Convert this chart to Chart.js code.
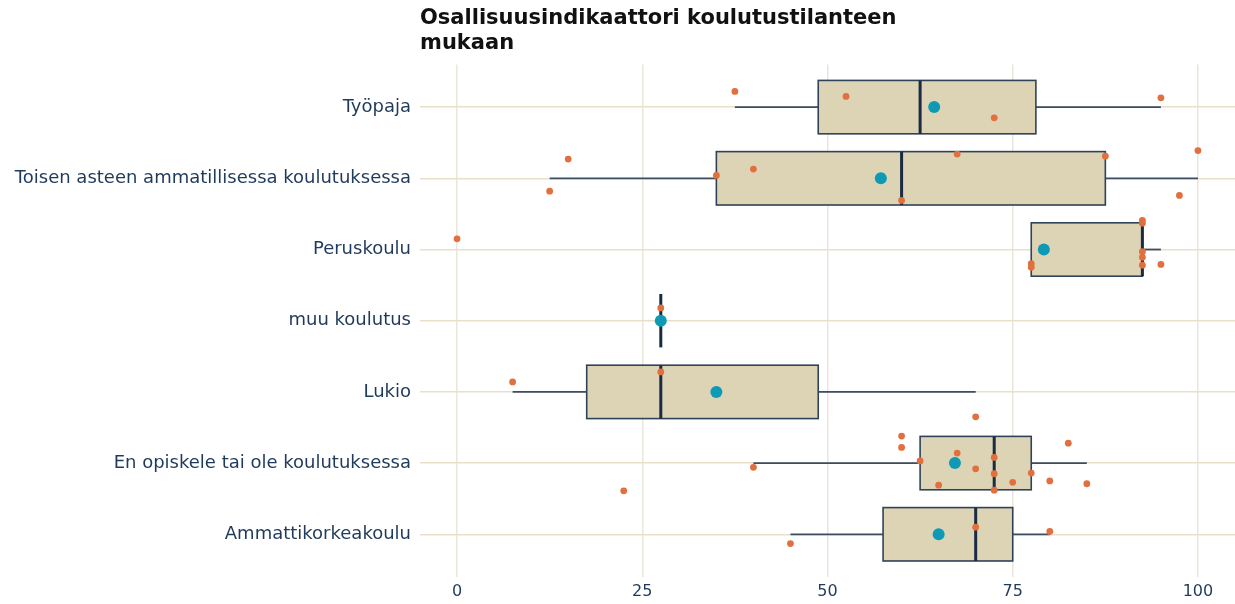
<!DOCTYPE html>
<html>
<head>
<meta charset="utf-8">
<script src="https://cdn.jsdelivr.net/npm/chart.js@4.4.1/dist/chart.umd.min.js"></script>
<style>
  html, body { margin: 0; padding: 0; background: #ffffff; }
  #wrap { width: 1235px; height: 604px; }
</style>
</head>
<body>
<div id="wrap"><canvas id="chart"></canvas></div>
<script>
// Categories, top to bottom
const categories = [
    'Työpaja',
    'Toisen asteen ammatillisessa koulutuksessa',
    'Peruskoulu',
    'muu koulutus',
    'Lukio',
    'En opiskele tai ole koulutuksessa',
    'Ammattikorkeakoulu'
];

// Box statistics
const whiskerLow  = [37.5, 12.5, 77.5, 27.5, 7.5, 40, 45];
const q1          = [48.75, 35, 77.5, 27.5, 17.5, 62.5, 57.5];
const median      = [62.5, 60, 92.5, 27.5, 27.5, 72.5, 70];
const q3          = [78.125, 87.5, 92.5, 27.5, 48.75, 77.5, 75];
const whiskerHigh = [95, 100, 95, 27.5, 70, 85, 80];
const means       = [64.4, 57.2, 79.2, 27.5, 35, 67.2, 65];

// Individual observations and their vertical jitter (in category units)
const pointValues = [
    [37.5, 52.5, 72.5, 95],
    [12.5, 15, 35, 40, 60, 67.5, 87.5, 97.5, 100],
    [0, 77.5, 77.5, 92.5, 92.5, 92.5, 92.5, 92.5, 95],
    [27.5],
    [7.5, 27.5, 70],
    [22.5, 40, 60, 60, 62.5, 65, 67.5, 70, 72.5, 72.5, 72.5, 75, 77.5, 80, 82.5, 85],
    [45, 70, 80]
];
const pointJitter = [
    [-0.22, -0.15, 0.15, -0.13],
    [0.18, -0.27, -0.04, -0.13, 0.31, -0.34, -0.31, 0.24, -0.39],
    [-0.15, 0.2, 0.25, -0.41, -0.37, 0.03, 0.11, 0.22, 0.21],
    [-0.18],
    [-0.14, -0.28, 0.35],
    [0.39, 0.06, -0.38, -0.22, -0.03, 0.31, -0.14, 0.08, -0.08, 0.15, 0.38, 0.27, 0.14, 0.25, -0.28, 0.29],
    [0.13, -0.1, -0.04]
];

const xTicks = [0, 25, 50, 75, 100];
const titleLines = ['Osallisuusindikaattori koulutustilanteen', 'mukaan'];

const FONT = "'DejaVu Sans', 'Liberation Sans', Arial, sans-serif";
const LABEL_COLOR = '#1f3a5a';

const boxPlugin = {
    id: 'boxes',
    beforeDatasetsDraw(chart) {
        const { ctx } = chart;
        const x = chart.scales.x;
        const y = chart.scales.y;
        const half = 0.375;

        ctx.save();
        categories.forEach((_, i) => {
            const yc = y.getPixelForValue(i);
            const a = y.getPixelForValue(i - half);
            const b = y.getPixelForValue(i + half);
            const top = Math.min(a, b);
            const h = Math.abs(b - a);

            // whiskers
            ctx.strokeStyle = '#3c4e63';
            ctx.lineWidth = 1.8;
            ctx.beginPath();
            ctx.moveTo(x.getPixelForValue(whiskerLow[i]), yc);
            ctx.lineTo(x.getPixelForValue(q1[i]), yc);
            ctx.moveTo(x.getPixelForValue(q3[i]), yc);
            ctx.lineTo(x.getPixelForValue(whiskerHigh[i]), yc);
            ctx.stroke();

            // box
            const left = x.getPixelForValue(q1[i]);
            const w = x.getPixelForValue(q3[i]) - left;
            if (w > 0) {
                ctx.fillStyle = '#ddd4b6';
                ctx.fillRect(left, top, w, h);
                ctx.strokeStyle = '#2f4358';
                ctx.lineWidth = 1.6;
                ctx.strokeRect(left, top, w, h);
            }

            // median
            const mx = x.getPixelForValue(median[i]);
            ctx.strokeStyle = '#1a2b44';
            ctx.lineWidth = 3;
            ctx.beginPath();
            ctx.moveTo(mx, top);
            ctx.lineTo(mx, top + h);
            ctx.stroke();
        });
        ctx.restore();
    }
};

const pointData = [];
pointValues.forEach((vals, i) => {
    vals.forEach((v, j) => pointData.push({ x: v, y: i + pointJitter[i][j] }));
});
const meanData = means.map((m, i) => ({ x: m, y: i }));

new Chart(document.getElementById('chart'), {
    type: 'scatter',
    data: {
        datasets: [
            {
                label: 'keskiarvo',
                data: meanData,
                order: 0,
                pointRadius: 6,
                pointHoverRadius: 6,
                pointBackgroundColor: '#0e9ab4',
                pointBorderWidth: 0
            },
            {
                label: 'havainnot',
                data: pointData,
                order: 1,
                pointRadius: 3.4,
                pointHoverRadius: 3.4,
                pointBackgroundColor: '#e2703f',
                pointBorderWidth: 0
            }
        ]
    },
    options: {
        responsive: true,
        maintainAspectRatio: false,
        animation: false,
        layout: { padding: 0, autoPadding: false },
        plugins: {
            legend: { display: false },
            tooltip: { enabled: false },
            title: {
                display: true,
                text: titleLines,
                align: 'start',
                fullSize: false,
                color: '#111111',
                font: { family: FONT, size: 21, weight: 'bold', lineHeight: 1.2 },
                padding: { top: 6, bottom: 8 }
            }
        },
        scales: {
            x: {
                type: 'linear',
                min: -5,
                max: 105,
                afterBuildTicks: axis => { axis.ticks = xTicks.map(v => ({ value: v })); },
                afterFit: axis => {
                    axis.height = 27;
                    axis.paddingLeft = 0;
                    axis.paddingRight = 0;
                },
                grid: { color: '#ebe6dc', lineWidth: 1.5, drawTicks: false },
                border: { display: false },
                ticks: {
                    color: LABEL_COLOR,
                    font: { family: FONT, size: 16 },
                    padding: 5,
                    maxRotation: 0
                }
            },
            y: {
                type: 'linear',
                reverse: true,
                min: -0.6,
                max: 6.6,
                afterBuildTicks: axis => { axis.ticks = categories.map((_, i) => ({ value: i })); },
                afterFit: axis => {
                    axis.width = 420;
                    axis.paddingTop = 0;
                    axis.paddingBottom = 0;
                },
                grid: { color: '#e8e0c9', lineWidth: 1.5, drawTicks: false },
                border: { display: false },
                ticks: {
                    color: LABEL_COLOR,
                    font: { family: FONT, size: 18 },
                    padding: 9,
                    callback: value => categories[value]
                }
            }
        }
    },
    plugins: [boxPlugin]
});
</script>
</body>
</html>
